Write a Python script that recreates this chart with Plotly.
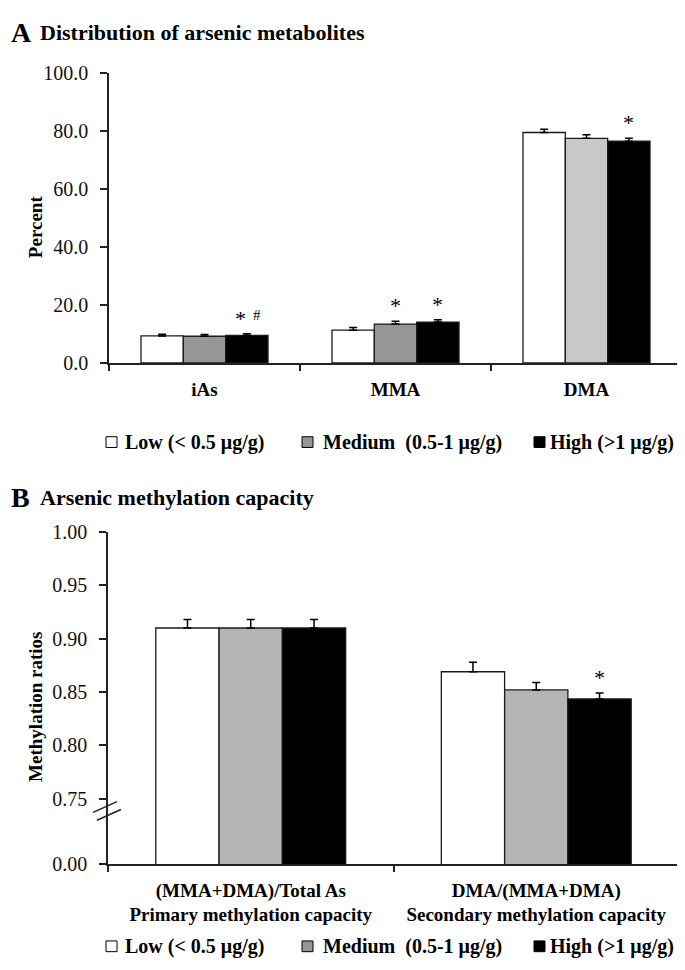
import plotly.graph_objects as go

# The page body has an 8px default margin, so the figure is sized/positioned
# to fill the 685x970 window from (8, 8).
PAGE_W, PAGE_H = 685, 970
OFF = 8
W, H = PAGE_W - OFF, PAGE_H - OFF

# ---------------- data ----------------
group_names = ["Low (< 0.5 μg/g)", "Medium\u00a0\u00a0(0.5-1 μg/g)", "High (>1 μg/g)"]

metabolites = ["iAs", "MMA", "DMA"]
pct_low = [9.3, 11.3, 79.4]
pct_med = [9.2, 13.4, 77.4]
pct_high = [9.5, 14.1, 76.4]
pct_low_err = [0.6, 0.9, 1.1]
pct_med_err = [0.6, 1.0, 1.2]
pct_high_err = [0.6, 0.8, 1.0]
pct_ticks = [0, 20, 40, 60, 80, 100]

ratio_cats = ["(MMA+DMA)/Total As<br>Primary methylation capacity",
              "DMA/(MMA+DMA)<br>Secondary methylation capacity"]
ratio_low = [0.910, 0.869]
ratio_med = [0.910, 0.852]
ratio_high = [0.910, 0.8435]
ratio_low_err = [0.008, 0.009]
ratio_med_err = [0.008, 0.007]
ratio_high_err = [0.008, 0.0055]
ratio_ticks = [0.75, 0.80, 0.85, 0.90, 0.95, 1.00]
ratio_floor = 0.6886         # axis break: this position is labelled 0.00
ratio_floor_label = "0.00"

# significance marks: (panel, category index, group index, symbol)
sig_marks = [
    ("top", 0, 2, "*"), ("top", 0, 2, "#"),
    ("top", 1, 1, "*"), ("top", 1, 2, "*"),
    ("top", 2, 2, "*"),
    ("bottom", 1, 2, "*"),
]

# ---------------- styles ----------------
FONT = "Liberation Serif"
top_colors = ["#ffffff", ["#969696", "#969696", "#c8c8c8"], "#000000"]
bot_colors = ["#ffffff", "#b4b4b4", "#000000"]
legend_colors = ["#ffffff", "#969696", "#000000"]
BARGAP = 0.335


def px(x):
    """page x pixel -> paper fraction"""
    return (x - OFF) / W


def py(y):
    """page y pixel -> paper fraction"""
    return 1 - (y - OFF) / H


fig = go.Figure()

top_vals = [pct_low, pct_med, pct_high]
top_errs = [pct_low_err, pct_med_err, pct_high_err]
bot_vals = [ratio_low, ratio_med, ratio_high]
bot_errs = [ratio_low_err, ratio_med_err, ratio_high_err]

for i in range(3):
    fig.add_trace(go.Bar(
        x=metabolites, y=top_vals[i], name=group_names[i],
        marker=dict(color=top_colors[i], line=dict(color="#1a1a1a", width=1.3)),
        error_y=dict(type="data", array=top_errs[i], arrayminus=[0] * 3,
                     symmetric=False, color="#000000", thickness=1.5, width=4),
        xaxis="x", yaxis="y", showlegend=False))
for i in range(3):
    fig.add_trace(go.Bar(
        x=ratio_cats, y=bot_vals[i], name=group_names[i],
        marker=dict(color=bot_colors[i], line=dict(color="#1a1a1a", width=1.3)),
        error_y=dict(type="data", array=bot_errs[i], arrayminus=[0] * 2,
                     symmetric=False, color="#000000", thickness=1.5, width=4),
        xaxis="x2", yaxis="y2", showlegend=False))

axis_common = dict(showline=True, linecolor="#222222", linewidth=1.5, ticks="outside",
                   tickcolor="#222222", tickwidth=1.5, showgrid=False, zeroline=False)

fig.update_layout(
    width=W, height=H, margin=dict(l=0, r=0, t=0, b=0),
    paper_bgcolor="white", plot_bgcolor="white",
    barmode="group", bargap=BARGAP, bargroupgap=0, showlegend=False,
    font=dict(family=FONT, color="#111111"),
    xaxis=dict(domain=[px(109), px(682)], anchor="y", type="category",
               tickson="boundaries", ticklen=6, ticklabelstandoff=8,
               tickfont=dict(size=19, weight="bold", family=FONT, color="#000"), **axis_common),
    yaxis=dict(domain=[py(360), py(63)], anchor="x", range=[0, 100],
               tickvals=pct_ticks, tickformat=".1f", ticklen=7, ticklabelstandoff=8,
               tickfont=dict(size=20, family=FONT, color="#111"), **axis_common),
    xaxis2=dict(domain=[px(108), px(679)], anchor="y2", type="category",
                tickson="boundaries", ticklen=6, ticklabelstandoff=8,
                tickfont=dict(size=19, weight="bold", family=FONT, color="#000"), **axis_common),
    yaxis2=dict(domain=[py(873), py(533)], anchor="x2", range=[ratio_floor, 1.0],
                tickvals=[ratio_floor] + ratio_ticks,
                ticktext=[ratio_floor_label] + [f"{v:.2f}" for v in ratio_ticks],
                ticklen=7, ticklabelstandoff=8,
                tickfont=dict(size=20, family=FONT, color="#111"), **axis_common),
)

annotations = []
# panel titles
for letter, text, y in [("A", "Distribution of arsenic metabolites", 22),
                        ("B", "Arsenic methylation capacity", 498)]:
    annotations.append(dict(text=f"<b>{letter}</b>", x=px(9), y=py(y), xref="paper", yref="paper",
                            xanchor="left", yanchor="middle", showarrow=False,
                            font=dict(size=28, family=FONT, color="#000")))
    annotations.append(dict(text=f"<b>{text}</b>", x=px(38), y=py(y), xref="paper", yref="paper",
                            xanchor="left", yanchor="middle", showarrow=False,
                            font=dict(size=22, family=FONT, color="#000")))
# axis titles
annotations.append(dict(text="<b>Percent</b>", x=px(35), y=py(221), xref="paper", yref="paper",
                        xanchor="center", yanchor="middle",
                        textangle=-90, showarrow=False, font=dict(size=19, family=FONT, color="#000")))
annotations.append(dict(text="<b>Methylation ratios</b>", x=px(36), y=py(712), xref="paper",
                        yref="paper", xanchor="center", yanchor="middle", textangle=-90,
                        showarrow=False, font=dict(size=19, family=FONT, color="#000")))

# significance marks
w = (1 - BARGAP) / 3
for panel, ci, gi, sym in sig_marks:
    if panel == "top":
        val = top_vals[gi][ci] + top_errs[gi][ci]
        xr, yr = "x", "y"
    else:
        val = bot_vals[gi][ci] + bot_errs[gi][ci]
        xr, yr = "x2", "y2"
    xshift = 0
    size = 22
    yshift = 1
    if panel == "top" and ci == 0:
        xshift = -6 if sym == "*" else 10
        if sym == "#":
            size = 15
            yshift = 9
    annotations.append(dict(text=sym, x=ci + (gi - 1) * w, y=val, xref=xr, yref=yr,
                            xanchor="center", yanchor="bottom", showarrow=False,
                            xshift=xshift, yshift=yshift,
                            font=dict(size=size, family=FONT, color="#000")))

# legends (keys drawn as small squares, labels as text)
shapes = []
legend_key_x = [106, 302, 534]
legend_text_x = [123, 321, 548]
for ly in [441, 957]:
    for i in range(3):
        shapes.append(dict(type="rect", xref="paper", yref="paper",
                           x0=px(legend_key_x[i]), x1=px(legend_key_x[i] + 11),
                           y0=py(ly + 5.5), y1=py(ly - 5.5),
                           line=dict(color="#000", width=1), fillcolor=legend_colors[i]))
        annotations.append(dict(text=f"<b>{group_names[i]}</b>", x=px(legend_text_x[i]), y=py(ly),
                                xref="paper", yref="paper", xanchor="left", yanchor="middle",
                                showarrow=False, font=dict(size=20, family=FONT, color="#000")))

# axis-break marks on the lower y axis
for (x0, y0, x1, y1) in [(93, 820, 117, 809), (97, 828, 121, 817)]:
    shapes.append(dict(type="line", xref="paper", yref="paper",
                       x0=px(x0), y0=py(y0), x1=px(x1), y1=py(y1),
                       line=dict(color="#222", width=1.5)))

fig.update_layout(annotations=annotations, shapes=shapes)
fig.write_html("out.html")
